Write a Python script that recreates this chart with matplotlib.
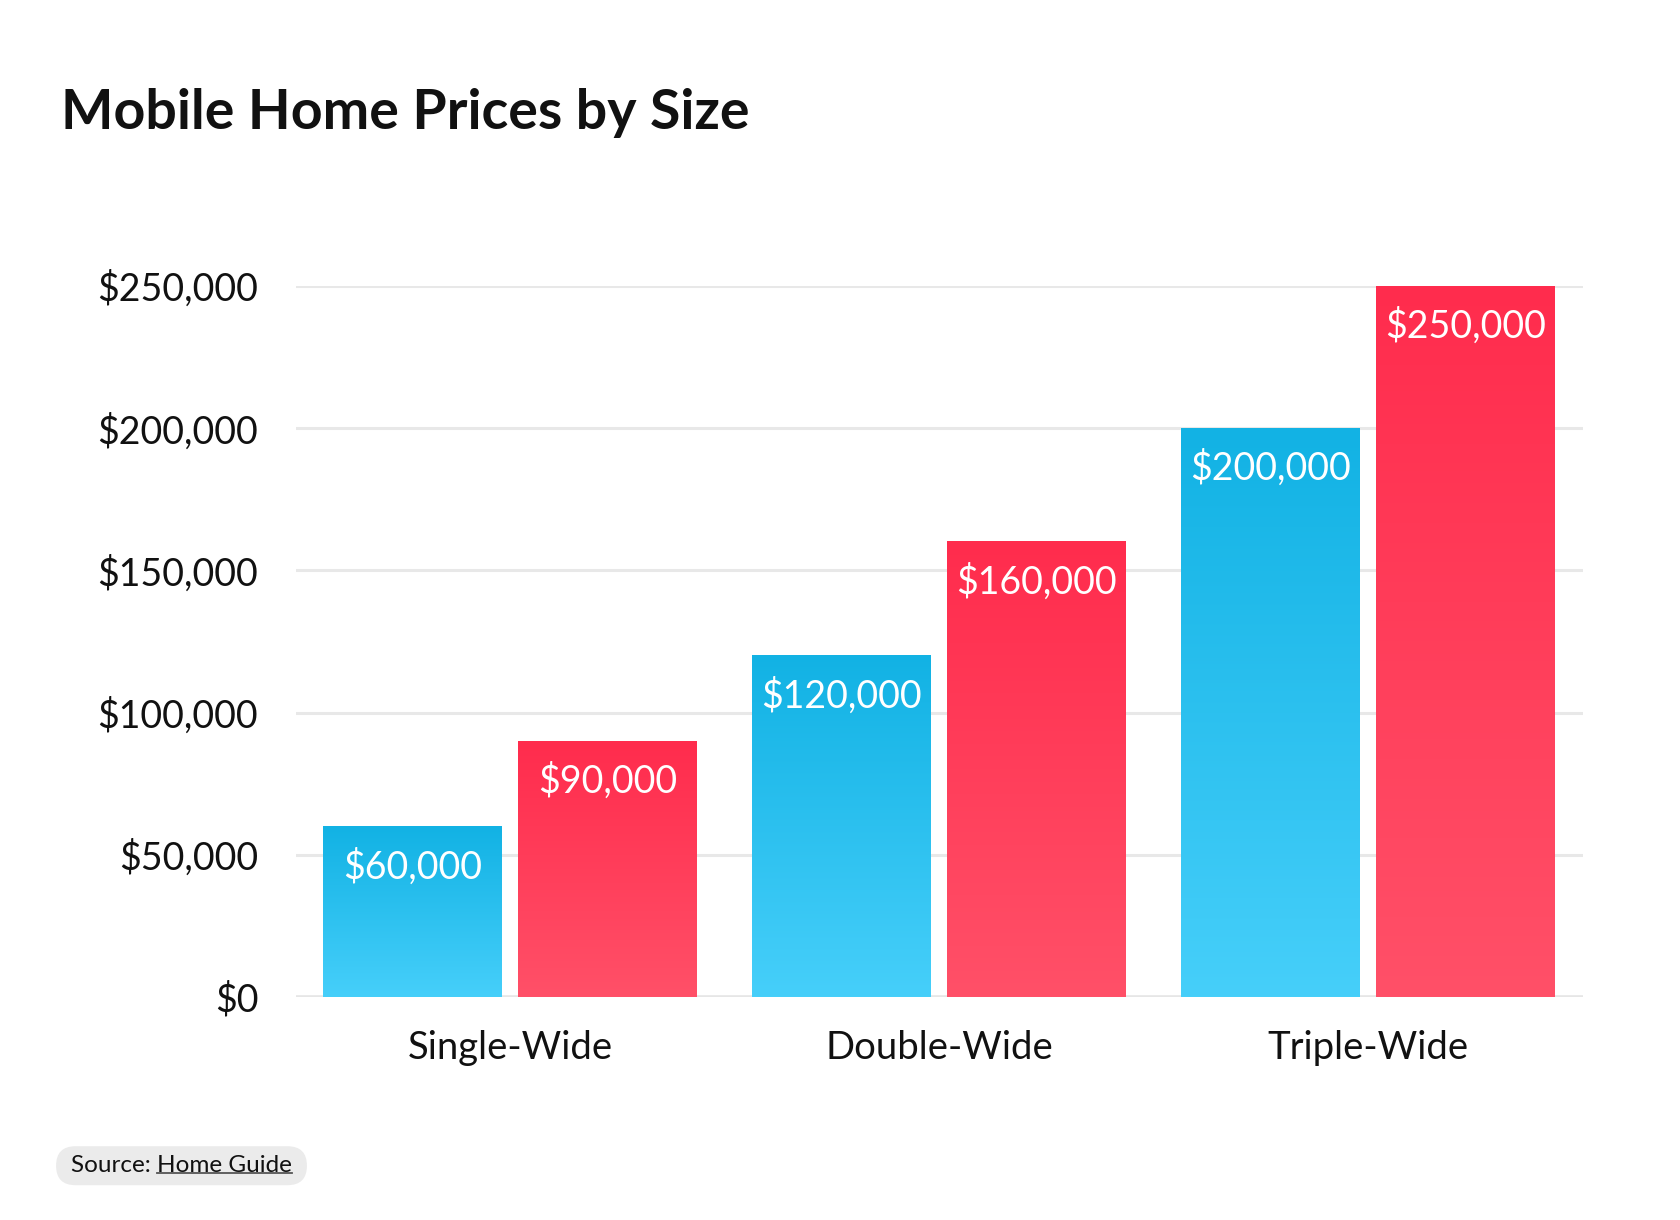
import numpy as np
import matplotlib
matplotlib.use("Agg")
import matplotlib.pyplot as plt
from matplotlib.colors import LinearSegmentedColormap
from matplotlib.lines import Line2D
from matplotlib.patches import FancyBboxPatch
from matplotlib.transforms import IdentityTransform

# data
categories = ["Single-Wide", "Double-Wide", "Triple-Wide"]
low_prices = [60000, 120000, 200000]
high_prices = [90000, 160000, 250000]
yticks = [0, 50000, 100000, 150000, 200000, 250000]
ytick_labels = ["$0", "$50,000", "$100,000", "$150,000", "$200,000", "$250,000"]

plt.rcParams["font.family"] = ["Lato", "DejaVu Sans"]

blue_cmap = LinearSegmentedColormap.from_list("blue", ["#46cffa", "#12b2e4"])
red_cmap = LinearSegmentedColormap.from_list("red", ["#ff5068", "#ff2c4d"])
grad = np.linspace(0, 1, 256).reshape(-1, 1)

fig = plt.figure(figsize=(16.8, 12.2), dpi=100)
fig.patch.set_facecolor("white")
ax = fig.add_axes([0.176, 0.1828, 0.766, 0.5828])

width = 0.417
offset = 0.227
x = np.arange(len(categories))

for xs, vals, cmap in [(x - offset, low_prices, blue_cmap),
                       (x + offset, high_prices, red_cmap)]:
    for xc, v in zip(xs, vals):
        ax.imshow(grad, cmap=cmap, origin="lower", aspect="auto",
                  extent=(xc - width / 2, xc + width / 2, 0, v), zorder=3)
        ax.annotate(f"${v:,.0f}", xy=(xc, v), xytext=(0, -29),
                    textcoords="offset points", ha="center", va="center",
                    color="white", fontsize=27, zorder=4)

ax.set_xlim(-0.5, 2.5)
ax.set_ylim(0, 250000)
ax.set_yticks(yticks)
ax.set_yticklabels(ytick_labels)
ax.set_xticks(x)
ax.set_xticklabels(categories)
ax.tick_params(axis="y", length=0, pad=27, labelsize=27, labelcolor="#111111")
ax.tick_params(axis="x", length=0, pad=24, labelsize=27.5, labelcolor="#111111")
ax.grid(axis="y", color="#e8e8e8", linewidth=2.2, zorder=0)
ax.set_axisbelow(True)
for spine in ax.spines.values():
    spine.set_visible(False)
ax.axhline(0, color="#e6e6e6", linewidth=2.6, zorder=2)

# title
fig.text(0.0363, 0.907, "Mobile Home Prices by Size", fontsize=40,
         fontweight="bold", color="#111111", ha="left", va="center")

# source pill: "Source: " plus underlined link text
src_y = 0.0445
src = fig.text(0.0423, src_y, "Source: ", fontsize=17.5, color="#111111",
               ha="left", va="center", zorder=5)
fig.canvas.draw()
r = fig.canvas.get_renderer()
sb = src.get_window_extent(r)
link = fig.text(sb.x1 / fig.bbox.width, src_y, "Home Guide", fontsize=17.5,
                color="#111111", ha="left", va="center", zorder=5)
fig.canvas.draw()
lb = link.get_window_extent(r)

cy = src_y * fig.bbox.height
pill_h = 39
pill = FancyBboxPatch((sb.x0 - 15 + pill_h / 2, cy - pill_h / 2),
                      lb.x1 - sb.x0 + 30 - pill_h, pill_h,
                      boxstyle=f"round,pad={pill_h / 2},rounding_size={pill_h / 2}",
                      transform=IdentityTransform(), fc="#ebebeb", ec="none",
                      zorder=1)
# pad grows the box on all sides, so undo it vertically
pill.set_y(cy)
pill.set_height(0)
fig.add_artist(pill)

uy = lb.y0 + 3
fig.add_artist(Line2D([lb.x0, lb.x1], [uy, uy], transform=IdentityTransform(),
                      color="#555555", linewidth=1.3, zorder=6))

fig.savefig("out.png", dpi=100, facecolor="white")
